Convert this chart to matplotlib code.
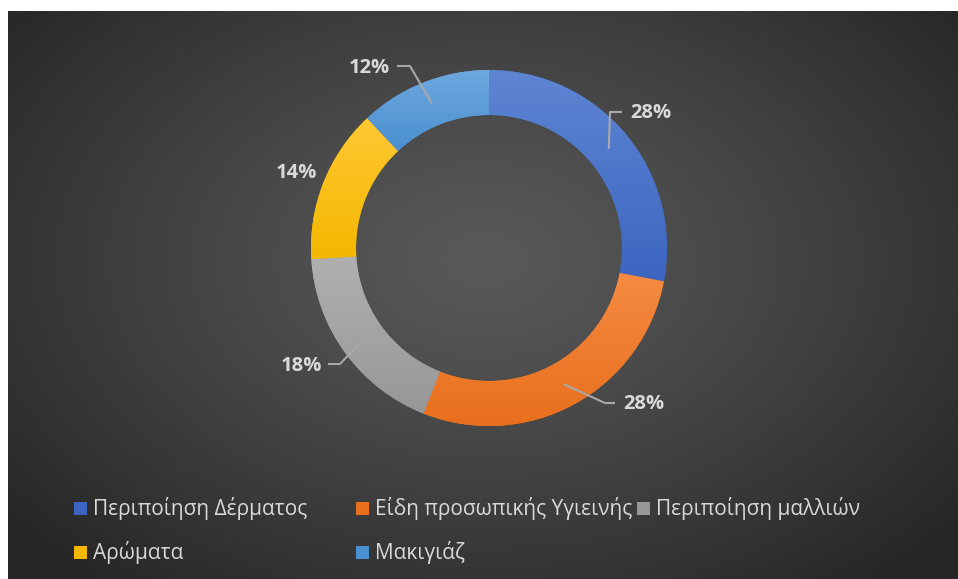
import numpy as np
import matplotlib
matplotlib.use("Agg")
import matplotlib.pyplot as plt
from matplotlib.colors import LinearSegmentedColormap
from matplotlib.patches import Rectangle

plt.rcParams['font.family'] = ['Open Sans', 'DejaVu Sans']

# data
categories = ["Περιποίηση Δέρματος", "Είδη προσωπικής Υγιεινής", "Περιποίηση μαλλιών",
              "Αρώματα", "Μακιγιάζ"]
shares = [28, 28, 18, 14, 12]
labels = ["28%", "28%", "18%", "14%", "12%"]

# slice colours (top of gradient, bottom of gradient)
top_cols = ["#5f86d3", "#f58b43", "#b0b0b0", "#ffc833", "#6ea8df"]
bot_cols = ["#3b65c0", "#e86f1c", "#979797", "#f4b800", "#4a8fd0"]
base_cols = ["#4472c4", "#ed7d31", "#a5a5a5", "#ffc000", "#5b9bd5"]

W, H = 958, 579
fig = plt.figure(figsize=(W / 100, H / 100), dpi=100, facecolor="white")
ax = fig.add_axes([0, 0, 1, 1])

def Y(y):
    # image row -> data y
    return H - y

# background radial gradient (chart area starts at x=8, y=11)
xs = np.linspace(8, W, 400)
ys = np.linspace(11, H, 250)
gx, gy = np.meshgrid(xs, ys)
t = np.sqrt(((gx - 485) / 620) ** 2 + ((gy - 260) / 420) ** 2)
t = np.clip(t, 0, 1) ** 1.2
c0 = np.array([0x59, 0x59, 0x59]) / 255
c1 = np.array([0x26, 0x26, 0x26]) / 255
bg = c0[None, None, :] * (1 - t[..., None]) + c1[None, None, :] * t[..., None]
ax.imshow(bg, extent=(8, W, Y(H), Y(11)), origin="upper", aspect="auto", zorder=0)

# donut
cx, cy, R, ring = 489, 248, 178, 45
wedges, _ = ax.pie(shares, colors=base_cols, startangle=90, counterclock=False,
                   radius=R, center=(cx, Y(cy)),
                   wedgeprops=dict(width=ring, edgecolor="none"))
ax.set_xlim(0, W)
ax.set_ylim(0, H)
ax.set_aspect("auto")
ax.set_autoscale_on(False)
ax.axis("off")

inv = ax.transData.inverted()
grad = np.linspace(0, 1, 256).reshape(-1, 1)
for w, ct, cb in zip(wedges, top_cols, bot_cols):
    ext = w.get_extents()
    (x0, y0), (x1, y1) = inv.transform([[ext.x0, ext.y0], [ext.x1, ext.y1]])
    cm = LinearSegmentedColormap.from_list("g", [ct, cb])
    im = ax.imshow(grad, extent=(x0, x1, y0, y1), origin="upper", cmap=cm,
                   aspect="auto", zorder=2)
    im.set_clip_path(w)
ax.set_xlim(0, W)
ax.set_ylim(0, H)

# data labels with leader lines
label_pos = [(630, 113, "left"), (623, 404, "left"), (322, 366, "right"),
             (296, 173, "center"), (390, 68, "right")]
elbows = [[(610, 112), (622, 112)], [(605, 403), (615, 403)],
          [(340, 364), (328, 364)], None, [(410, 66), (397, 66)]]
line_col = "#a8a8a8"
cum = 0
for val, lab, (tx, ty, ha), el in zip(shares, labels, label_pos, elbows):
    mid = np.deg2rad(90 - (cum + val / 2) * 3.6)
    cum += val
    if el is not None:
        r0 = R - ring / 2
        sx, sy = cx + r0 * np.cos(mid), cy - r0 * np.sin(mid)
        px = [sx] + [p[0] for p in el]
        py = [Y(sy)] + [Y(p[1]) for p in el]
        ax.plot(px, py, color=line_col, lw=1.5, zorder=3, solid_capstyle="butt")
    ax.text(tx, Y(ty), lab, ha=ha, va="center", fontsize=14.5, fontweight="bold",
            color="#d9d9d9", zorder=4)

# legend (two rows, fixed columns)
leg_pos = [(74, 508), (356, 508), (637, 508), (74, 552), (356, 552)]
for cat, ct, cb, (lx, ly) in zip(categories, top_cols, bot_cols, leg_pos):
    sq = Rectangle((lx, Y(ly + 7)), 13, 13, facecolor=cb, edgecolor="none", zorder=3)
    ax.add_patch(sq)
    ax.text(lx + 19, Y(ly), cat, ha="left", va="center", fontsize=15,
            color="#d9d9d9", zorder=4)

fig.savefig("out.png", dpi=100, facecolor="white")
